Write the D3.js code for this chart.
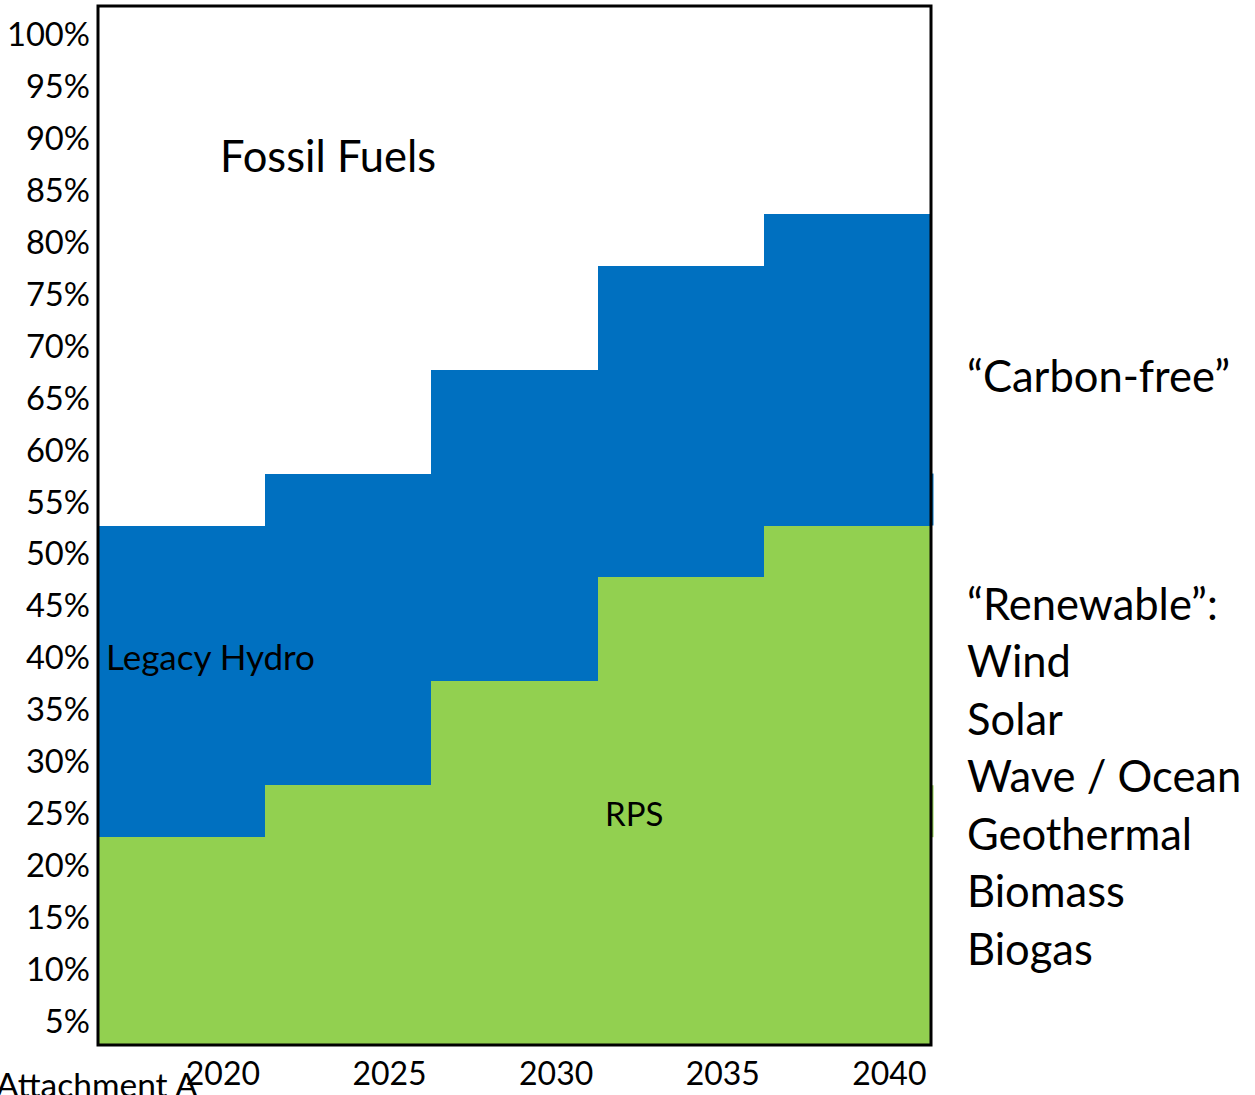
<!DOCTYPE html>
<html>
<head>
<meta charset="utf-8">
<script src="https://cdn.jsdelivr.net/npm/d3@7"></script>
<style>
  html, body { margin: 0; padding: 0; background: #fff; }
  svg { display: block; font-family: Lato, "Open Sans", sans-serif; }
</style>
</head>
<body>
<svg id="chart" width="1255" height="1095"></svg>
<script>
// Carbon-free share of electricity by period
const years = ["2020", "2025", "2030", "2035", "2040"];
const rpsShare = [20, 25, 35, 45, 50];          // renewable (RPS) share, %
const carbonFreeShare = [50, 55, 65, 75, 80];   // RPS + legacy hydro, %
const yTicks = [5, 10, 15, 20, 25, 30, 35, 40, 45, 50, 55, 60, 65, 70, 75, 80, 85, 90, 95, 100];
const renewableList = ["Wind", "Solar", "Wave / Ocean", "Geothermal", "Biomass", "Biogas"];

const BLUE = "#0070C0";
const GREEN = "#92D050";

const svg = d3.select("#chart");
const plot = { left: 98, right: 931, top: 6, bottom: 1045 };

const x = d3.scaleBand().domain(years).range([plot.left, plot.right]).paddingInner(0).paddingOuter(0);
const y = d3.scaleLinear().domain([0, 100]).range([plot.bottom, plot.top]);

// Legacy hydro (blue) blocks: full carbon-free height
svg.append("g").attr("shape-rendering", "crispEdges")
  .selectAll("rect").data(years).join("rect")
  .attr("x", d => x(d))
  .attr("width", x.bandwidth() + 1)
  .attr("y", (d, i) => y(carbonFreeShare[i]))
  .attr("height", (d, i) => y(0) - y(carbonFreeShare[i]))
  .attr("fill", BLUE);

// RPS (green) blocks drawn over the hydro blocks
svg.append("g").attr("shape-rendering", "crispEdges")
  .selectAll("rect").data(years).join("rect")
  .attr("x", d => x(d))
  .attr("width", x.bandwidth() + 1)
  .attr("y", (d, i) => y(rpsShare[i]))
  .attr("height", (d, i) => y(0) - y(rpsShare[i]))
  .attr("fill", GREEN);

// thin slivers poking past the right frame edge
svg.append("rect").attr("x", plot.right).attr("width", 2.5)
  .attr("y", y(carbonFreeShare[1])).attr("height", y(carbonFreeShare[0]) - y(carbonFreeShare[1]))
  .attr("fill", BLUE);
svg.append("rect").attr("x", plot.right).attr("width", 2.5)
  .attr("y", y(rpsShare[1])).attr("height", y(rpsShare[0]) - y(rpsShare[1]))
  .attr("fill", GREEN);

// frame
svg.append("rect")
  .attr("x", plot.left).attr("y", plot.top)
  .attr("width", plot.right - plot.left).attr("height", plot.bottom - plot.top)
  .attr("fill", "none").attr("stroke", "#000").attr("stroke-width", 3);

// y-axis labels (set between grid steps)
svg.append("g").selectAll("text").data(yTicks).join("text")
  .attr("x", 90)
  .attr("y", d => y(d - 2.5) + 14)
  .attr("text-anchor", "end")
  .attr("font-size", 32.7)
  .attr("fill", "#000")
  .text(d => d + "%");

// x-axis year labels
svg.append("g").selectAll("text").data(years).join("text")
  .attr("x", d => x(d) + x.bandwidth() * 0.75)
  .attr("y", 1085)
  .attr("text-anchor", "middle")
  .attr("font-size", 32)
  .attr("fill", "#000")
  .text(d => d);

svg.append("text").attr("x", -4).attr("y", 1097)
  .attr("font-size", 33.5).attr("fill", "#000").text("Attachment A");

// in-chart region labels
svg.append("text").attr("x", 220).attr("y", 172)
  .attr("font-size", 43.5).attr("fill", "#000").text("Fossil Fuels");
svg.append("text").attr("x", 106).attr("y", 670)
  .attr("font-size", 35).attr("fill", "#000").text("Legacy Hydro");
svg.append("text").attr("x", 605).attr("y", 826)
  .attr("font-size", 33).attr("fill", "#000").text("RPS");

// right-hand annotations
svg.append("text").attr("x", 967).attr("y", 392)
  .attr("font-size", 43.5).attr("fill", "#000").text("\u201CCarbon-free\u201D");
svg.append("text").attr("x", 967).attr("y", 620)
  .attr("font-size", 43.5).attr("fill", "#000").text("\u201CRenewable\u201D:");
svg.append("g").selectAll("text").data(renewableList).join("text")
  .attr("x", 967)
  .attr("y", (d, i) => 677 + i * 57.6)
  .attr("font-size", 43.5)
  .attr("fill", "#000")
  .text(d => d);
</script>
</body>
</html>
